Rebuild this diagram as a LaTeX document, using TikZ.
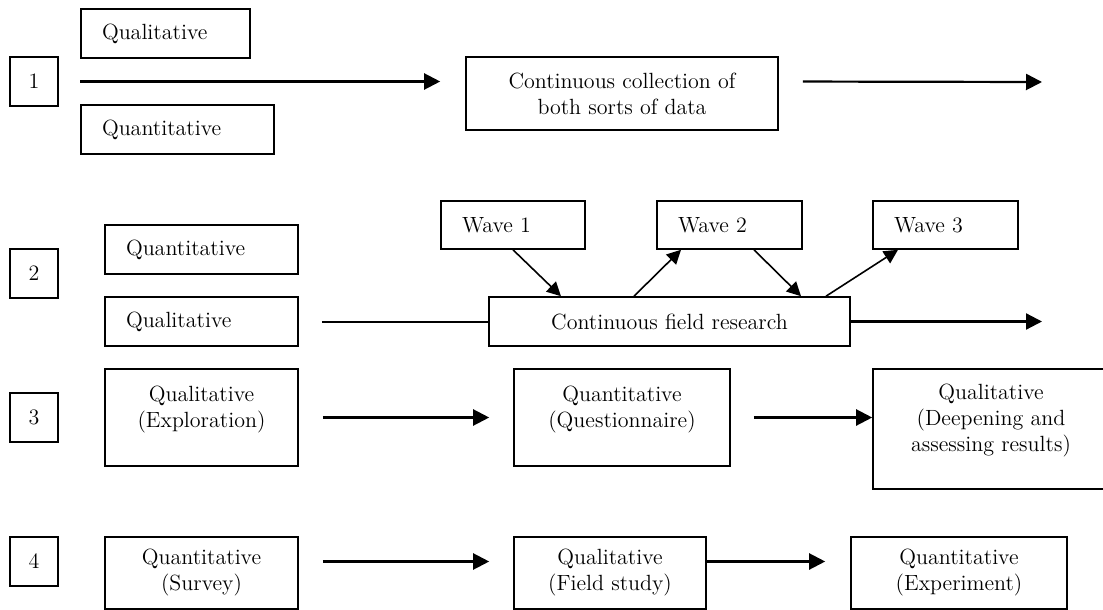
\documentclass[tikz,border=0pt]{standalone}
\usetikzlibrary{arrows.meta}

\tikzset{
    numbox/.style={draw, line width=0.8pt, minimum width=24pt, minimum height=24.5pt, inner sep=0pt},
    leftbox/.style={draw, line width=0.8pt, minimum height=24.5pt, inner xsep=10.5pt, inner ysep=0pt, align=left, text width=#1},
    midbox/.style={draw, line width=0.8pt, align=center, inner sep=0pt},
    raised/.style={text depth=11pt},
    flow/.style={line width=1.1pt, -{Triangle[length=8pt,width=8pt]}},
    wave/.style={line width=0.8pt, -{Triangle[length=7pt,width=7pt]}}
}

\begin{document}
\begin{tikzpicture}[x=0.5pt, y=-0.5pt, font=\fontsize{11}{13}\selectfont] %1103x610
            \useasboundingbox (0,0) rectangle (1103,610);

            \node[numbox] (n1) at (34,81.5) {1};
            \node[leftbox=63.5pt] (qual1) at (165.5,33.5) {Qualitative};
            \node[leftbox=75.5pt] (quant1) at (177.5,129.5) {Quantitative};
            \node[midbox, minimum width=156pt, minimum height=36.5pt] (collect) at (622,93.5) {Continuous collection of\\both sorts of data};
            \coordinate (end1) at (1042,82);
            \draw[flow, shorten >=12.5pt] (qual1.west |- n1) -- (collect.west |- n1);
            \draw[flow, shorten <=12pt] (collect.east |- n1) -- (end1);

            \node[numbox] (n2) at (34,273.5) {2};
            \node[leftbox=75.5pt] (quant2) at (201.5,249.5) {Quantitative};
            \node[leftbox=75.5pt] (qual2) at (201.5,321.5) {Qualitative};
            \node[midbox, minimum width=180.5pt, minimum height=24.5pt] (field) at (669.5,321.5) {Continuous field research};
            \node[leftbox=51pt, minimum height=24pt] (wave1) at (513,225) {Wave 1};
            \node[leftbox=51.5pt, minimum height=24pt] (wave2) at (729.5,225) {Wave 2};
            \node[leftbox=51.5pt, minimum height=24pt] (wave3) at (945.5,225) {Wave 3};
            \draw[line width=1pt, shorten <=11.5pt] (qual2.east) -- (field.west);
            \draw[flow] (field.east) -- (field.east -| end1);
            \draw[wave] (wave1.south) -- ([xshift=-54.25pt]field.north);
            \draw[wave] ([xshift=-17.75pt]field.north) -- ([xshift=-24.25pt]wave2.south);
            \draw[wave] ([xshift=12.25pt]wave2.south) -- ([xshift=65.75pt]field.north);
            \draw[wave] ([xshift=78.25pt]field.north) -- ([xshift=-23.75pt]wave3.south);

            \node[numbox] (n3) at (34,417.5) {3};
            \node[midbox, raised, minimum width=96.5pt, minimum height=48.5pt] (explore) at (201.5,417.5) {Qualitative\\(Exploration)};
            \node[midbox, raised, minimum width=108pt, minimum height=48.5pt] (quest) at (622,417.5) {Quantitative\\(Questionnaire)};
            \node[midbox, raised, minimum width=118pt, minimum height=60pt] (deep) at (991,429) {Qualitative\\(Deepening and\\assessing results)};
            \draw[flow, shorten <=12pt, shorten >=12pt] (explore.east) -- (quest.west);
            \draw[flow, shorten <=11.5pt] (quest.east) -- (quest.east -| deep.west);

            \node[numbox] (n4) at (34,561.5) {4};
            \node[midbox, minimum width=96.5pt, minimum height=36pt] (survey) at (201.5,573) {Quantitative\\(Survey)};
            \node[midbox, minimum width=96pt, minimum height=36pt] (fstudy) at (610,573) {Qualitative\\(Field study)};
            \node[midbox, minimum width=108pt, minimum height=36pt] (exper) at (959,573) {Quantitative\\(Experiment)};
            \draw[flow, shorten <=12pt, shorten >=12pt] (survey.east |- n4) -- (fstudy.west |- n4);
            \draw[flow, shorten >=12.5pt] (fstudy.east |- n4) -- (exper.west |- n4);
        \end{tikzpicture}
\end{document}
